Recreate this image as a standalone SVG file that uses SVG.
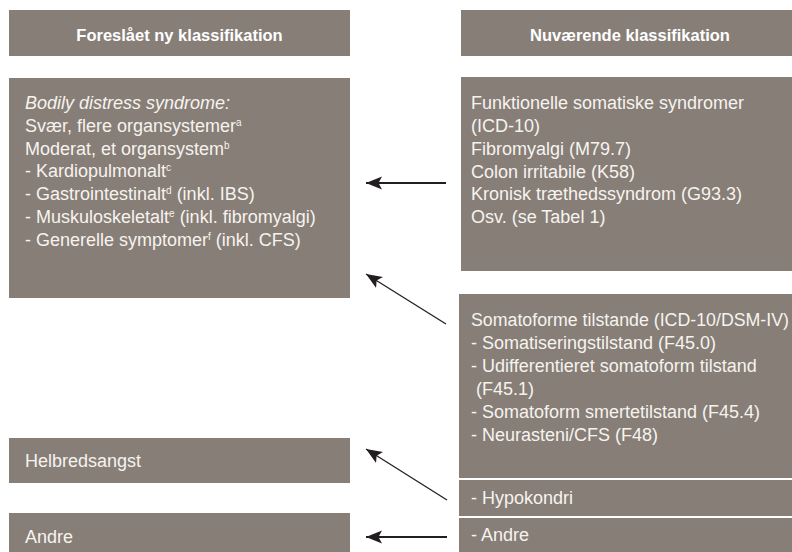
<svg xmlns="http://www.w3.org/2000/svg" width="792" height="552" viewBox="0 0 792 552">
<style>
.box{fill:#877e77}
.t{font-family:"Liberation Sans",Arial,sans-serif;font-size:18px;fill:#f6f3ef}
.h{font-family:"Liberation Sans",Arial,sans-serif;font-size:16.5px;font-weight:bold;fill:#ffffff;text-anchor:middle}
.it{font-style:italic}
.sup{font-size:10px}
.arr{stroke:#231f20;fill:none}
.thick{stroke-width:2.2}
.thin{stroke-width:1.3}
</style>
<defs>
<marker id="ah" markerUnits="userSpaceOnUse" markerWidth="18" markerHeight="14" refX="16" refY="6.5" orient="auto">
<path d="M0,0 L16,6.5 L0,13 L3.5,6.5 Z" fill="#231f20"/>
</marker>
</defs>
<rect width="792" height="552" fill="#ffffff"/>

<g id="header-left">
<rect class="box" x="9" y="10" width="341" height="46"/>
<text class="h" x="179.5" y="41">Foreslået ny klassifikation</text>
</g>
<g id="header-right">
<rect class="box" x="461" y="10" width="331" height="46"/>
<text class="h" x="630" y="41">Nuværende klassifikation</text>
</g>

<g id="bds">
<rect class="box" x="9" y="78" width="341" height="220"/>
<text class="t it" x="25" y="109">Bodily distress syndrome:</text>
<text class="t" x="25" y="131.8">Svær, flere organsystemer<tspan class="sup" dy="-6">a</tspan></text>
<text class="t" x="25" y="154.6">Moderat, et organsystem<tspan class="sup" dy="-6">b</tspan></text>
<text class="t" x="25" y="177.4">- Kardiopulmonalt<tspan class="sup" dy="-6">c</tspan></text>
<text class="t" x="25" y="200.2">- Gastrointestinalt<tspan class="sup" dy="-6">d</tspan><tspan dy="6"> (inkl. IBS)</tspan></text>
<text class="t" x="25" y="223">- Muskuloskeletalt<tspan class="sup" dy="-6">e</tspan><tspan dy="6"> (inkl. fibromyalgi)</tspan></text>
<text class="t" x="25" y="245.8">- Generelle symptomer<tspan class="sup" dy="-6">f</tspan><tspan dy="6"> (inkl. CFS)</tspan></text>
</g>

<g id="helbredsangst">
<rect class="box" x="9" y="438" width="341" height="45"/>
<text class="t" x="25" y="467">Helbredsangst</text>
</g>
<g id="andre-left">
<rect class="box" x="9" y="513" width="341" height="39"/>
<text class="t" x="25" y="543">Andre</text>
</g>

<g id="funktionelle">
<rect class="box" x="461" y="77" width="331" height="194"/>
<text class="t" x="471" y="109">Funktionelle somatiske syndromer</text>
<text class="t" x="471" y="132">(ICD-10)</text>
<text class="t" x="471" y="155">Fibromyalgi (M79.7)</text>
<text class="t" x="471" y="178">Colon irritabile (K58)</text>
<text class="t" x="471" y="200">Kronisk træthedssyndrom (G93.3)</text>
<text class="t" x="471" y="223">Osv. (se Tabel 1)</text>
</g>

<g id="somatoforme">
<rect class="box" x="459" y="294" width="333" height="184"/>
<text class="t" x="471" y="326" textLength="318" lengthAdjust="spacingAndGlyphs">Somatoforme tilstande (ICD-10/DSM-IV)</text>
<text class="t" x="471" y="349">- Somatiseringstilstand (F45.0)</text>
<text class="t" x="471" y="372">- Udifferentieret somatoform tilstand</text>
<text class="t" x="476" y="395">(F45.1)</text>
<text class="t" x="471" y="418">- Somatoform smertetilstand (F45.4)</text>
<text class="t" x="471" y="441">- Neurasteni/CFS (F48)</text>
</g>
<g id="hypokondri">
<rect class="box" x="459" y="480" width="333" height="36"/>
<text class="t" x="471" y="504">- Hypokondri</text>
</g>
<g id="andre-right">
<rect class="box" x="459" y="518" width="333" height="34"/>
<text class="t" x="471" y="541">- Andre</text>
</g>

<g id="connectors">
<line class="arr thick" x1="446" y1="183" x2="366" y2="183" marker-end="url(#ah)"/>
<line class="arr thin" x1="446" y1="324" x2="366" y2="274" marker-end="url(#ah)"/>
<line class="arr thin" x1="447" y1="500" x2="366" y2="449" marker-end="url(#ah)"/>
<line class="arr thick" x1="447" y1="537" x2="366" y2="537" marker-end="url(#ah)"/>
</g>
</svg>
